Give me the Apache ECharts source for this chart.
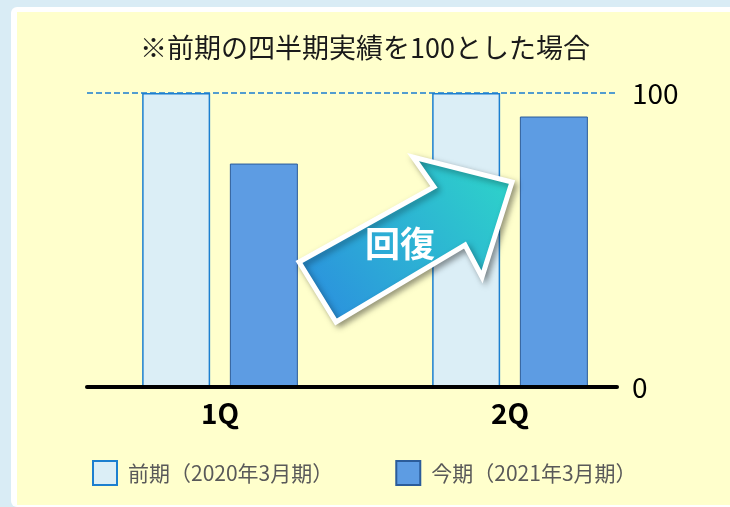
<!DOCTYPE html>
<html>
<head>
<meta charset="utf-8">
<script src="https://cdn.jsdelivr.net/npm/echarts@6/dist/echarts.min.js"></script>
<style>
  html, body { margin: 0; padding: 0; background: #d9ecf5; overflow: hidden; }
  #frame {
    position: absolute; left: 11px; top: 7px; width: 740px; height: 500px;
    background: #ffffff; border-radius: 6px;
  }
  #panel {
    position: absolute; left: 17px; top: 12px; width: 730px; height: 493px;
    background: #ffffcc;
  }
  #chart { position: absolute; left: 0; top: 0; width: 730px; height: 507px; }
</style>
</head>
<body>
<div id="frame"></div>
<div id="panel"></div>
<div id="chart"></div>
<script>
// data
const quarters = ['1Q', '2Q'];
const prevName = '前期（2020年3月期）';
const currName = '今期（2021年3月期）';
const prevValues = [100, 100];
const currValues = [76, 92];
const titleText = '※前期の四半期実績を100とした場合';
const arrowText = '回復';

const font = '"Noto Sans CJK JP", "Noto Sans", sans-serif';

const chart = echarts.init(document.getElementById('chart'));

const option = {
  backgroundColor: 'transparent',
  animation: false,
  textStyle: { fontFamily: font },
  title: {
    text: titleText,
    left: 'center',
    top: 34,
    padding: 0,
    textStyle: { fontSize: 27, fontWeight: 'normal', color: '#1a1a1a', fontFamily: font }
  },
  legend: {
    left: 92,
    top: 460,
    padding: 0,
    itemWidth: 24,
    itemHeight: 24,
    itemGap: 62,
    icon: 'rect',
    textStyle: { fontSize: 21, color: '#595959', fontFamily: font, padding: [0, 0, 0, 6] },
    data: [prevName, currName]
  },
  grid: [
    // bars
    { left: 75, right: 75, top: 93, bottom: 120 },
    // baseline + right axis
    { left: 87, right: 113, top: 93, bottom: 120 }
  ],
  xAxis: [
    {
      type: 'category',
      gridIndex: 0,
      data: quarters,
      axisLine: { show: false },
      axisTick: { show: false },
      axisLabel: { fontSize: 28, fontWeight: 'bold', color: '#000', margin: 12, fontFamily: font }
    },
    {
      type: 'category',
      gridIndex: 1,
      data: [''],
      z: 5,
      axisLine: { show: true, lineStyle: { color: '#000', width: 4 } },
      axisTick: { show: false },
      axisLabel: { show: false }
    }
  ],
  yAxis: [
    { type: 'value', gridIndex: 0, min: 0, max: 100, show: false },
    {
      type: 'value',
      gridIndex: 1,
      position: 'right',
      min: 0,
      max: 100,
      interval: 100,
      axisLine: { show: false },
      axisTick: { show: false },
      axisLabel: { fontSize: 28, color: '#000', margin: 15, fontFamily: font },
      splitLine: { show: true, lineStyle: { color: '#1a7dd0', width: 1.6, type: [6, 3] } }
    }
  ],
  series: [
    {
      name: prevName,
      type: 'bar',
      xAxisIndex: 0,
      yAxisIndex: 0,
      barWidth: 68,
      barGap: '29%',
      data: prevValues,
      itemStyle: { color: '#dbeef6', borderColor: '#1c7fcf', borderWidth: 1.5 }
    },
    {
      name: currName,
      type: 'bar',
      xAxisIndex: 0,
      yAxisIndex: 0,
      barWidth: 68,
      data: currValues,
      itemStyle: { color: '#5d9ce3', borderColor: '#2b5c9a', borderWidth: 1 }
    }
  ],
  graphic: [
    {
      type: 'polygon',
      z: 10,
      shape: {
        points: [[299, 262], [434, 187], [413, 157], [512, 182], [482, 277], [465, 245], [336, 322]]
      },
      style: {
        fill: new echarts.graphic.LinearGradient(0, 1, 1, 0, [
          { offset: 0, color: '#2b8ae0' },
          { offset: 1, color: '#2ed8c8' }
        ]),
        stroke: '#ffffff',
        lineWidth: 5,
        lineJoin: 'miter',
        shadowBlur: 6,
        shadowOffsetX: 3,
        shadowOffsetY: 3,
        shadowColor: 'rgba(0,0,0,0.35)'
      }
    },
    {
      type: 'text',
      z: 11,
      x: 400,
      y: 244,
      style: {
        text: arrowText,
        fill: '#ffffff',
        font: 'bold 35px ' + font,
        align: 'center',
        verticalAlign: 'middle'
      }
    }
  ]
};

chart.setOption(option);
</script>
</body>
</html>
